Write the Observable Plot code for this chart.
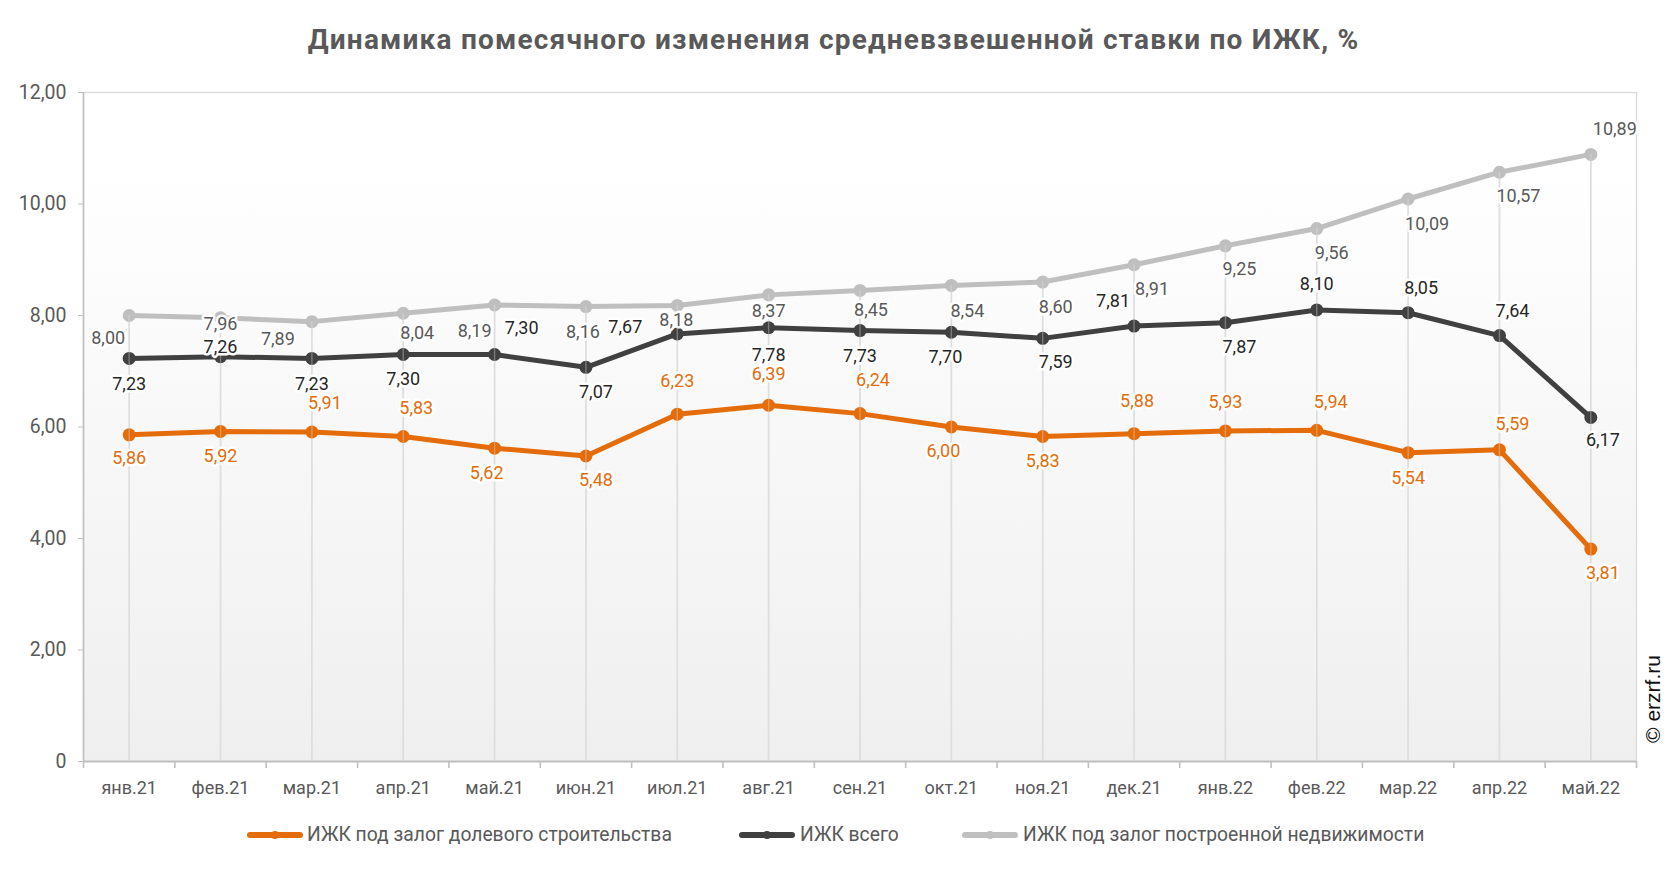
<!DOCTYPE html>
<html>
<head>
<meta charset="utf-8">
<script src="https://cdn.jsdelivr.net/npm/d3@7"></script>
<script src="https://cdn.jsdelivr.net/npm/@observablehq/plot@0.6"></script>
<style>
  html, body { margin: 0; padding: 0; background: #ffffff; }
  #wrap { position: relative; width: 1667px; height: 872px; font-family: Roboto, "Noto Sans", sans-serif; overflow: hidden; }
  #title { position: absolute; left: 0; top: 21px; width: 1667px; text-align: center; font-weight: bold; font-size: 28px; letter-spacing: 1.2px; line-height: 38px; color: #595959; }
  #chart { position: absolute; left: 0; top: 70px; }
  .leg { position: absolute; top: 823px; height: 24px; }
  .leg svg { position: absolute; left: 0; top: 5px; }
  .leg span { position: absolute; top: 0; white-space: nowrap; font-size: 19.3px; line-height: 24px; color: #595959; }
  #wm { position: absolute; left: 1653px; top: 699px; transform: translate(-50%, -50%) rotate(-90deg); white-space: nowrap; font-family: "Liberation Sans", Arial, sans-serif; font-size: 21px; color: #111; }
</style>
</head>
<body>
<div id="wrap">
  <div id="title"></div>
  <div id="chart"></div>
  <div id="legend"></div>
  <div id="wm">© erzrf.ru</div>
</div>
<script>
// ---- data ----
const titleText = "Динамика помесячного изменения средневзвешенной ставки по ИЖК, %";
const months = ["янв.21","фев.21","мар.21","апр.21","май.21","июн.21","июл.21","авг.21","сен.21","окт.21","ноя.21","дек.21","янв.22","фев.22","мар.22","апр.22","май.22"];
const seriesNames = ["ИЖК под залог долевого строительства", "ИЖК всего", "ИЖК под залог построенной  недвижимости"];
const shareValues = [5.86, 5.92, 5.91, 5.83, 5.62, 5.48, 6.23, 6.39, 6.24, 6.00, 5.83, 5.88, 5.93, 5.94, 5.54, 5.59, 3.81];
const totalValues = [7.23, 7.26, 7.23, 7.30, 7.30, 7.07, 7.67, 7.78, 7.73, 7.70, 7.59, 7.81, 7.87, 8.10, 8.05, 7.64, 6.17];
const builtValues = [8.00, 7.96, 7.89, 8.04, 8.19, 8.16, 8.18, 8.37, 8.45, 8.54, 8.60, 8.91, 9.25, 9.56, 10.09, 10.57, 10.89];
const yTicks = [0, 2, 4, 6, 8, 10, 12];

// ---- label placement (style: pixel nudges of each data label) ----
const shareNudge = [[0,23],[0,25],[13,-29],[13,-28],[-8,25],[10,24],[0,-33],[0,-31],[13,-33],[-8,24],[0,25],[3,-32],[0,-29],[14,-28],[0,26],[13,-26],[12,24]];
const totalNudge = [[0,26],[0,-10],[0,26],[0,25],[27,-26],[10,25],[-52,-7],[0,27],[0,26],[-6,25],[13,24],[-21,-25],[14,24],[0,-26],[13,-24],[13,-24],[12,23]];
const builtNudge = [[-21,23],[0,7],[-34,18],[14,20],[-20,26],[-3,26],[-1,15],[0,16],[11,20],[16,26],[13,25],[18,24],[14,23],[15,25],[19,25],[19,24],[24,-25]];

// ---- layout ----
const W = 1667, H = 735, ML = 83, MR = 31, MT = 22, MB = 44;
const step = (W - ML - MR) / months.length;
const fmt = v => v.toFixed(2).replace(".", ",");

const rows = months.map((m, i) => ({month: m, share: shareValues[i], total: totalValues[i], built: builtValues[i]}));

const series = [
  {key: "built", name: seriesNames[2], color: "#bfbfbf", text: "#595959", nudge: builtNudge},
  {key: "total", name: seriesNames[1], color: "#404040", text: "#262626", nudge: totalNudge},
  {key: "share", name: seriesNames[0], color: "#e46c0a", text: "#e46c0a", nudge: shareNudge}
];

const labelMarks = series.flatMap(s => rows.map((r, i) =>
  Plot.text([r], {
    x: "month", y: s.key, text: d => fmt(d[s.key]),
    dx: s.nudge[i][0], dy: s.nudge[i][1],
    fill: s.text, stroke: "#ffffff", strokeWidth: 5, strokeLinejoin: "round", paintOrder: "stroke",
    fontSize: 18
  })
));

const chart = Plot.plot({
  width: W, height: H,
  marginLeft: ML, marginRight: MR, marginTop: MT, marginBottom: MB,
  style: {fontFamily: "Roboto, sans-serif", fontSize: "18px", color: "#595959", background: "transparent", overflow: "visible"},
  x: {type: "point", domain: months, padding: 0.5, round: false, label: null},
  y: {domain: [0, 12], label: null},
  marks: [
    Plot.frame({fill: "url(#plotBg)", stroke: "#d9d9d9", strokeWidth: 1.3}),
    Plot.ruleX(rows, {x: "month", y1: 0, y2: "built", stroke: "#d9d9d9", strokeWidth: 1.6}),
    Plot.ruleY([0], {stroke: "#bfbfbf", strokeWidth: 2.2}),
    Plot.ruleX([months[0]], {dx: -step / 2, stroke: "#bfbfbf", strokeWidth: 1.6}),
    Plot.ruleX(months, {x: d => d, y1: 0, y2: 0, insetBottom: -7, dx: step / 2, stroke: "#bfbfbf", strokeWidth: 1.6}),
    Plot.ruleX([months[0]], {x: d => d, y1: 0, y2: 0, insetBottom: -7, dx: -step / 2, stroke: "#bfbfbf", strokeWidth: 1.6}),
    Plot.axisY(yTicks, {tickSize: 5, tickPadding: 12, stroke: "#bfbfbf", fill: "#595959", fontSize: 19.5,
      tickFormat: d => d === 0 ? "0" : fmt(d)}),
    Plot.axisX({tickSize: 0, tickPadding: 20, fill: "#595959", fontSize: 18}),
    ...series.flatMap(s => [
      Plot.line(rows, {x: "month", y: s.key, stroke: s.color, strokeWidth: 5, strokeLinejoin: "round"}),
      Plot.dot(rows, {x: "month", y: s.key, r: 6.5, fill: s.color})
    ]),
    Plot.ruleX(rows, {x: "month", y1: 0, y2: "built", stroke: "#e8e8e8", strokeOpacity: 0.35, strokeWidth: 1.4}),
    ...labelMarks
  ]
});

// gradient background for the plot area
const svg = chart.tagName.toLowerCase() === "svg" ? chart : chart.querySelector("svg");
const ns = "http://www.w3.org/2000/svg";
const defs = document.createElementNS(ns, "defs");
const grad = document.createElementNS(ns, "linearGradient");
grad.setAttribute("id", "plotBg");
grad.setAttribute("x1", "0"); grad.setAttribute("y1", "0");
grad.setAttribute("x2", "0"); grad.setAttribute("y2", "1");
[["0", "#ffffff"], ["0.1", "#ffffff"], ["1", "#efefef"]].forEach(([o, c]) => {
  const st = document.createElementNS(ns, "stop");
  st.setAttribute("offset", o); st.setAttribute("stop-color", c);
  grad.appendChild(st);
});
defs.appendChild(grad);
svg.insertBefore(defs, svg.firstChild);

document.getElementById("chart").appendChild(chart);
document.getElementById("title").textContent = titleText;

// legend
const legendPos = [[245, 307, 2], [737, 800, 1], [960, 1023, 0]];
const legend = document.getElementById("legend");
legendPos.forEach(([mx, tx, k]) => {
  const s = series[k];
  const item = document.createElement("div");
  item.className = "leg";
  item.style.left = mx + "px";
  item.innerHTML = `<svg width="60" height="14"><line x1="5" y1="7" x2="55" y2="7" stroke="${s.color}" stroke-width="6" stroke-linecap="round"/><circle cx="30" cy="7" r="4" fill="${s.color}"/></svg><span style="left:${tx - mx}px">${s.name}</span>`;
  legend.appendChild(item);
});
</script>
</body>
</html>
